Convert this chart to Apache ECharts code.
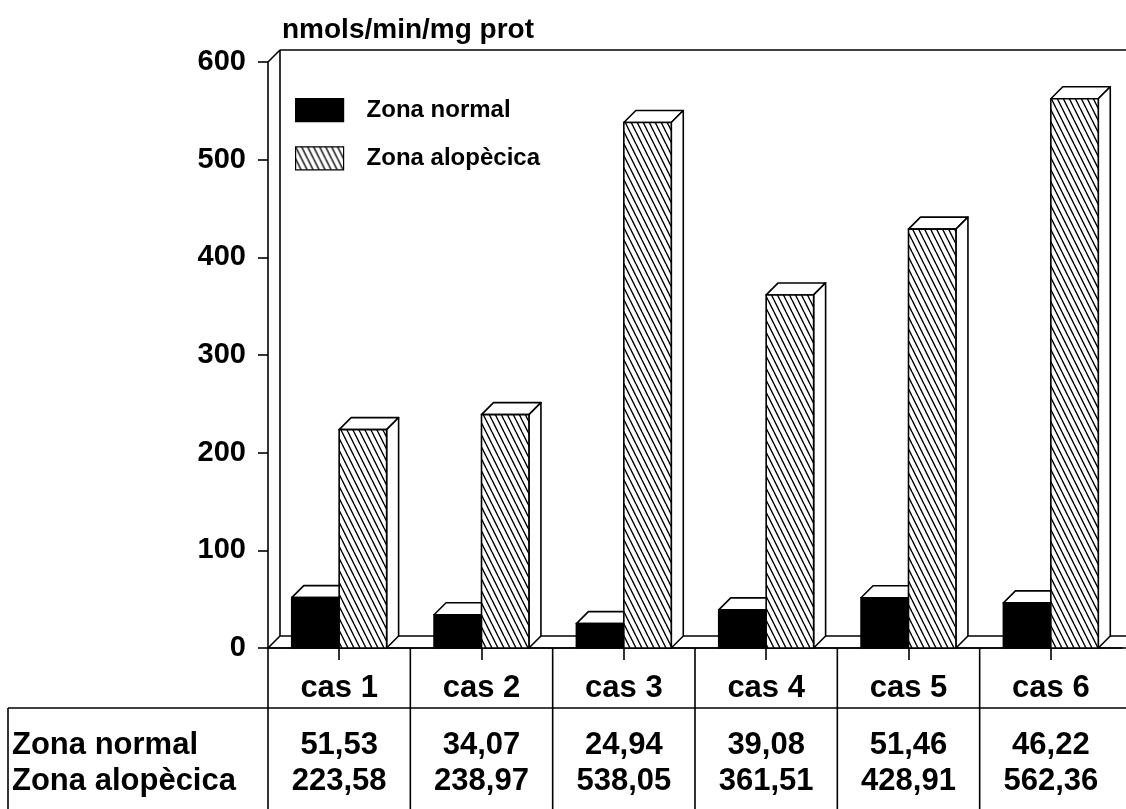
<!DOCTYPE html>
<html>
<head>
<meta charset="utf-8">
<script src="https://cdn.jsdelivr.net/npm/echarts@6/dist/echarts.min.js"></script>
<style>
  html, body { margin: 0; padding: 0; background: #fff; }
  #chart { width: 1126px; height: 809px; }
</style>
</head>
<body>
<div id="chart"></div>
<script>
// Data
const categories = ['cas 1', 'cas 2', 'cas 3', 'cas 4', 'cas 5', 'cas 6'];
const zonaNormal = [51.53, 34.07, 24.94, 39.08, 51.46, 46.22];
const zonaAlopecica = [223.58, 238.97, 538.05, 361.51, 428.91, 562.36];
const seriesNames = ['Zona normal', 'Zona alopècica'];
const unitLabel = 'nmols/min/mg prot';
const yMin = 0, yMax = 600, yStep = 100;

// Styling
const FONT = '"Liberation Sans", Arial, sans-serif';
const INK = '#000';
const LW = 1.6;
const DEPTH = 12;   // 3D offset of bars and walls

function fmt(v) { return v.toFixed(2).replace('.', ','); }

// Diagonal hatching for the second series
function makeHatch() {
  const c = document.createElement('canvas');
  c.width = 6; c.height = 12;
  const g = c.getContext('2d');
  g.fillStyle = '#fff';
  g.fillRect(0, 0, 6, 12);
  g.strokeStyle = INK;
  g.lineWidth = 1.4;
  g.beginPath();
  [-6, 0, 6].forEach(function (ox) { g.moveTo(ox, 0); g.lineTo(ox + 6, 12); });
  g.stroke();
  return { image: c, repeat: 'repeat' };
}
const HATCH = makeHatch();
const fills = [INK, HATCH];

const line = { stroke: INK, lineWidth: LW };

// Back wall, side wall and floor of the 3D frame
function frameItem(params, api) {
  const cs = params.coordSys;
  const x0 = cs.x, x1 = cs.x + cs.width + 40, yt = cs.y, yb = cs.y + cs.height, d = DEPTH;
  return {
    type: 'group',
    children: [
      { type: 'line', shape: { x1: x0, y1: yt, x2: x0 + d, y2: yt - d }, style: line },
      { type: 'line', shape: { x1: x0 + d, y1: yt - d, x2: x1, y2: yt - d }, style: line },
      { type: 'line', shape: { x1: x0 + d, y1: yt - d, x2: x0 + d, y2: yb - d }, style: line },
      { type: 'line', shape: { x1: x0, y1: yb, x2: x0 + d, y2: yb - d }, style: line },
      { type: 'line', shape: { x1: x0 + d, y1: yb - d, x2: x1, y2: yb - d }, style: line },
      { type: 'line', shape: { x1: x0, y1: yb, x2: x1, y2: yb }, style: line }
    ]
  };
}

// One 3D bar: top face, right side face, front face
function barItem(slot) {
  return function (params, api) {
    const idx = api.value(0);
    const top = api.coord([idx, api.value(1)]);
    const base = api.coord([idx, 0]);
    const bw = api.size([1, 0])[0] / 3;
    const x0 = slot === 0 ? top[0] - bw : top[0];
    const x1 = x0 + bw;
    const yt = top[1], yb = base[1], d = DEPTH;
    return {
      type: 'group',
      children: [
        { type: 'polygon', shape: { points: [[x0, yt], [x0 + d, yt - d], [x1 + d, yt - d], [x1, yt]] },
          style: { fill: '#fff', stroke: INK, lineWidth: LW, lineJoin: 'round' } },
        { type: 'polygon', shape: { points: [[x1, yt], [x1 + d, yt - d], [x1 + d, yb - d], [x1, yb]] },
          style: { fill: '#fff', stroke: INK, lineWidth: LW, lineJoin: 'round' } },
        { type: 'rect', shape: { x: x0, y: yt, width: bw, height: yb - yt },
          style: { fill: fills[slot], stroke: INK, lineWidth: LW } }
      ]
    };
  };
}

// Data table under the chart, one column per category
const tableFont = { fontFamily: FONT, fontSize: 31, fontWeight: 'bold', fill: INK };
function tableItem(params, api) {
  const idx = api.value(0);
  const c = api.coord([idx, 0]);
  const w = api.size([1, 0])[0];
  const cs = params.coordSys;
  const top = cs.y, bottom = cs.y + cs.height;
  const split = top + 60;
  const left = c[0] - w / 2;
  function txt(s, x, y, align) {
    return { type: 'text', x: x, y: y,
      style: Object.assign({ text: s, align: align, verticalAlign: 'middle' }, tableFont) };
  }
  const children = [
    { type: 'line', shape: { x1: left, y1: top, x2: left, y2: bottom }, style: line },
    txt(categories[idx], c[0], top + 40, 'center'),
    txt(fmt(zonaNormal[idx]), c[0], top + 97, 'center'),
    txt(fmt(zonaAlopecica[idx]), c[0], top + 133, 'center')
  ];
  if (idx === 0) {
    children.push(
      { type: 'line', shape: { x1: 8, y1: split, x2: cs.x + cs.width + 40, y2: split }, style: line },
      { type: 'line', shape: { x1: 8, y1: split, x2: 8, y2: bottom }, style: line },
      txt(seriesNames[0], 12, top + 97, 'left'),
      txt(seriesNames[1], 12, top + 133, 'left')
    );
  }
  return { type: 'group', children: children };
}

const chart = echarts.init(document.getElementById('chart'), null, { renderer: 'canvas' });
chart.setOption({
  animation: false,
  backgroundColor: '#fff',
  title: {
    text: unitLabel, left: 277, top: 11,
    textStyle: { fontFamily: FONT, fontSize: 28, fontWeight: 'bold', color: INK }
  },
  legend: {
    orient: 'vertical', left: 290, top: 93,
    itemWidth: 48, itemHeight: 23, itemGap: 24,
    icon: 'rect', selectedMode: false,
    data: seriesNames,
    itemStyle: { borderColor: INK, borderWidth: 1.2 },
    textStyle: { fontFamily: FONT, fontSize: 24, fontWeight: 'bold', color: INK, padding: [0, 0, 0, 18] }
  },
  grid: [
    { left: 268, top: 62, width: 854, height: 586, outerBoundsMode: 'none' },
    { left: 268, top: 648, width: 854, height: 161, outerBoundsMode: 'none' }
  ],
  xAxis: [
    {
      type: 'category', data: categories, gridIndex: 0,
      axisLine: { show: true, lineStyle: { color: INK, width: LW } },
      axisTick: { show: true, alignWithLabel: true, length: 12, lineStyle: { color: INK, width: LW } },
      axisLabel: { show: false },
      splitLine: { show: false }
    },
    { type: 'category', data: categories, gridIndex: 1, show: false }
  ],
  yAxis: [
    {
      type: 'value', min: yMin, max: yMax, interval: yStep, gridIndex: 0,
      axisLine: { show: true, lineStyle: { color: INK, width: LW } },
      axisTick: { show: true, length: 10, lineStyle: { color: INK, width: LW } },
      axisLabel: { color: INK, fontFamily: FONT, fontSize: 29, fontWeight: 'bold', margin: 22 },
      splitLine: { show: false }
    },
    { type: 'value', min: 0, max: 1, gridIndex: 1, show: false }
  ],
  series: [
    {
      type: 'custom', name: 'frame', xAxisIndex: 0, yAxisIndex: 0,
      data: [[0, 0]], renderItem: frameItem, silent: true, z: 1
    },
    {
      type: 'custom', name: seriesNames[0], xAxisIndex: 0, yAxisIndex: 0,
      itemStyle: { color: INK },
      data: zonaNormal.map(function (v, i) { return [i, v]; }),
      renderItem: barItem(0), z: 2
    },
    {
      type: 'custom', name: seriesNames[1], xAxisIndex: 0, yAxisIndex: 0,
      itemStyle: { color: HATCH },
      data: zonaAlopecica.map(function (v, i) { return [i, v]; }),
      renderItem: barItem(1), z: 3
    },
    {
      type: 'custom', name: 'table', xAxisIndex: 1, yAxisIndex: 1,
      data: categories.map(function (c, i) { return [i, 0]; }),
      renderItem: tableItem, silent: true, z: 4
    }
  ]
});
</script>
</body>
</html>
